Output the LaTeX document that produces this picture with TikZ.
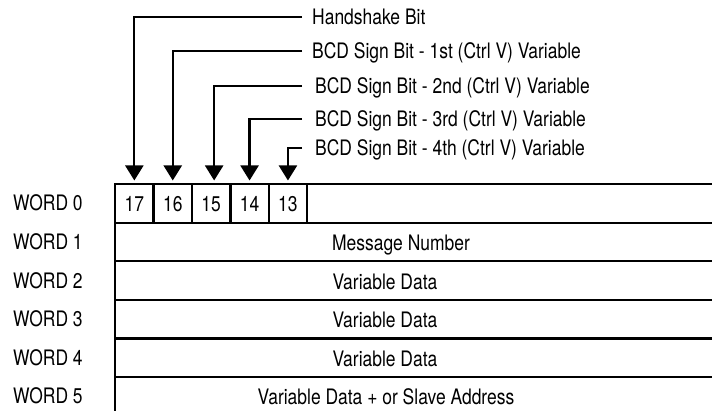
\documentclass[tikz,border=0pt]{standalone}
\usepackage{fontspec}
\setmainfont{texgyreheros}[Extension=.otf, UprightFont=*-regular, BoldFont=*-bold, FakeStretch=0.82]
\usetikzlibrary{arrows.meta,positioning}

\begin{document}
\begin{tikzpicture}[
  x=1pt,
  y=-1pt,
  every node/.style={font=\fontsize{21.3}{25}\selectfont, inner sep=0pt, text height=15.3pt, text depth=0pt},
  wordlbl/.style={anchor=west},
  rowbox/.style={draw, line width=2.3pt, anchor=north west, minimum width=600pt, minimum height=38.6pt},
  bitbox/.style={draw, line width=2.3pt, anchor=north west, minimum width=38.4pt, minimum height=38.6pt},
  bitlbl/.style={anchor=west, inner xsep=10pt},
  bitarrow/.style={line width=2.2pt, -{Triangle[width=18pt,length=15pt]}, shorten >=2.5pt}
]
\useasboundingbox (0,0) rectangle (712,411);

% word frames and names
\foreach \i in {0,...,5} {
  \node[rowbox] (w\i) at (114,183+38.6*\i) {};
  \node[wordlbl] (n\i) at (13,203.3+38.6*\i) {WORD \i};
}
\foreach \b [count=\k from 0] in {17,16,15,14,13}
  \node[bitbox] (b\b) at (114+38.4*\k,183) {\b};

\node (t1) at (401,243) {Message Number};
\node (t2) at (385,281.5) {Variable Data};
\node (t3) at (385,320.1) {Variable Data};
\node (t4) at (385,358.7) {Variable Data};
\node (t5) at (386,397.3) {Variable Data + or Slave Address};

% bit callouts
\node[bitlbl] (hs) at (302,17) {Handshake Bit};
\node[bitlbl] (s1) at (302,51) {BCD Sign Bit - 1st (Ctrl V) Variable};
\node[bitlbl, inner xsep=13pt] (s2) at (302,86) {BCD Sign Bit - 2nd (Ctrl V) Variable};
\node[bitlbl, inner xsep=13pt] (s3) at (302,119) {BCD Sign Bit - 3rd (Ctrl V) Variable};
\node[bitlbl, inner xsep=13pt] (s4) at (302,148) {BCD Sign Bit - 4th (Ctrl V) Variable};
\draw[bitarrow] (hs.west) -| (b17.north);
\draw[bitarrow] (s1.west) -| (b16.north);
\draw[bitarrow] (s2.west) -| ([xshift=3pt]b15.north);
\draw[bitarrow] (s3.west) -| (b14.north);
\draw[bitarrow] (s4.west) -| (b13.north);
\end{tikzpicture}
\end{document}
